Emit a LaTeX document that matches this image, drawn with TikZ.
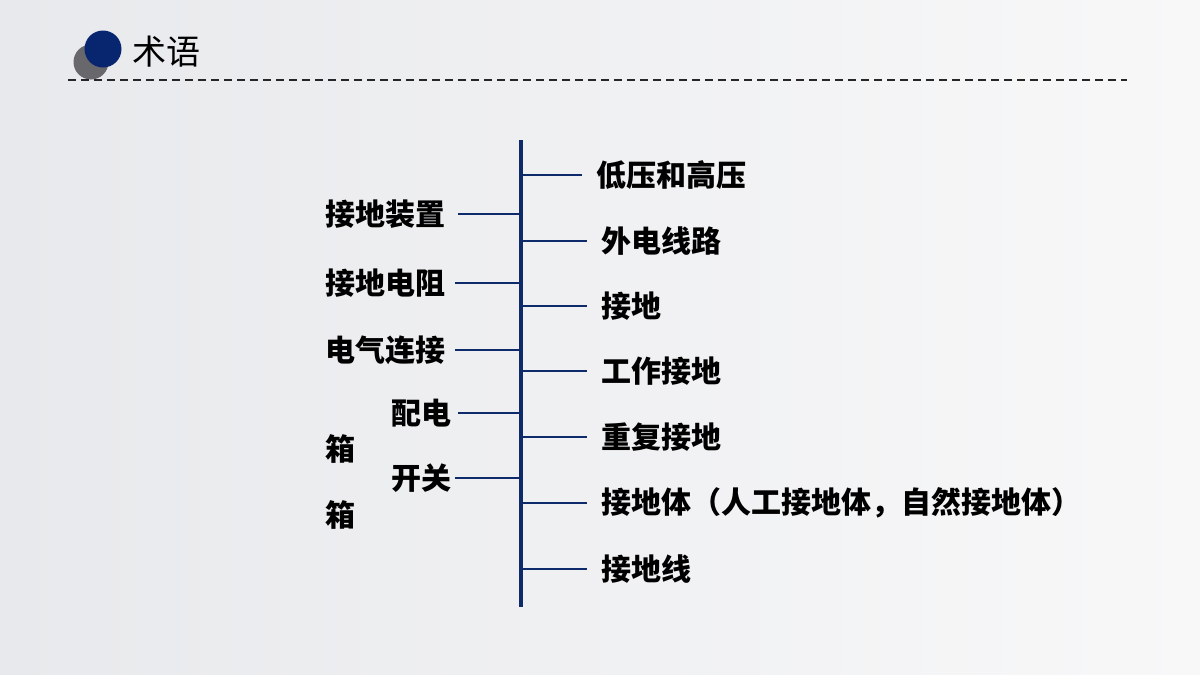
\documentclass[tikz,border=0pt]{standalone}
\usepackage{fontspec}
\setmainfont{Noto Sans CJK SC}
\usetikzlibrary{positioning}
\tikzstyle{slide} = [x = 1pt, y = -1pt]
\definecolor{barColor}{RGB}{14,42,107}
\definecolor{dotColor}{RGB}{8,38,112}
\definecolor{shadowColor}{RGB}{104,104,108}
\definecolor{bgLeft}{RGB}{232,233,236}
\definecolor{bgRight}{RGB}{248,248,249}
\tikzstyle{termText} = [font = \fontsize{30}{30}\selectfont\bfseries, inner sep = 0pt, text = black]
\tikzstyle{titleText} = [font = \fontsize{34}{34}\selectfont, inner sep = 0pt, text = black]
\tikzstyle{branchLine} = [color = barColor, line width = 2pt]
\tikzstyle{mainBar} = [color = barColor, line width = 4pt]
\tikzstyle{headRule} = [color = black!85, line width = 1.8pt, dash pattern = on 8pt off 5pt]
\newcommand{\rightTerm}[4]{
  \node [termText, anchor = west] (#1) at (#2, #3) {#4};
  \draw [branchLine] (#1 -| barTop) -- ([xshift = -14pt] #1.west);
}
\newcommand{\leftTerm}[5]{
  \node [termText, anchor = east] (#1) at (#2, #3) {#5};
  \draw [branchLine] ([xshift = #4] #1.east) -- (#1 -| barTop);
}

\begin{document}
\begin{tikzpicture}[slide]
        % background
        \shade [left color = bgLeft, right color = bgRight] (0,0) rectangle (1200,675);
        \useasboundingbox (0,0) rectangle (1200,675);

        % heading
        \fill [shadowColor] (91,62) circle (17.5);
        \fill [dotColor] (103,49) circle (18.5);
        \node [titleText, anchor = west] (title) at (132,52) {术语};
        \coordinate (ruleStart) at (68,80);
        \coordinate (ruleEnd) at (1127,80);
        \draw [headRule] (ruleStart) -- (ruleEnd);

        % main bar
        \coordinate (barTop) at (521,140);
        \coordinate (barBottom) at (521,607);
        \draw [mainBar] (barTop) -- (barBottom);

        % right side
        \rightTerm{lowHigh}{596}{175}{低压和高压}
        \rightTerm{outerLine}{601}{241}{外电线路}
        \rightTerm{earthing}{601}{306}{接地}
        \rightTerm{workEarth}{601}{371}{工作接地}
        \rightTerm{repeatEarth}{601}{437}{重复接地}
        \rightTerm{earthBody}{601}{503}{接地体（人工接地体，自然接地体）}
        \rightTerm{earthWire}{601}{569}{接地线}

        % left side
        \leftTerm{earthDevice}{446}{214}{12pt}{接地装置}
        \leftTerm{earthResist}{446}{283}{9pt}{接地电阻}
        \leftTerm{elecLink}{446}{350}{9pt}{电气连接}
        \leftTerm{distBox}{452}{413}{6pt}{配电}
        \leftTerm{switchBox}{452}{478}{3pt}{开关}
        \node [termText] (boxOne) at (340,449) {箱};
        \node [termText] (boxTwo) at (340,515) {箱};
      \end{tikzpicture}
\end{document}
